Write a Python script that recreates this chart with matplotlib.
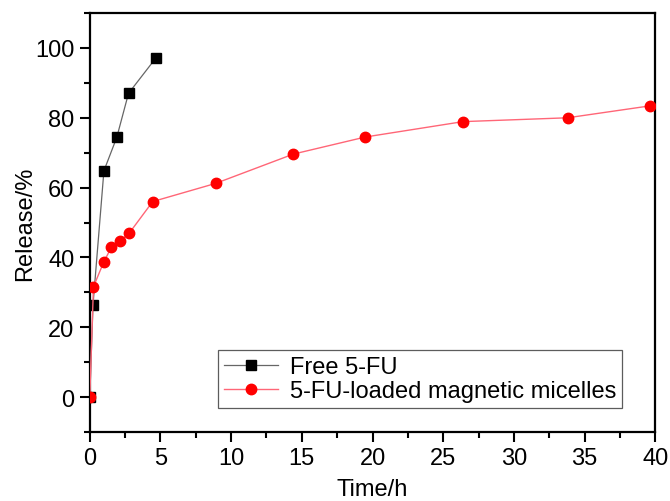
import matplotlib
matplotlib.use('Agg')
import matplotlib.pyplot as plt
from matplotlib.ticker import MultipleLocator

plt.rcParams.update({
    'font.family': ['Liberation Sans', 'DejaVu Sans'],
    'font.size': 17,
})

# ── data ─────────────────────────────────────────────────────────────────────
free_t = [0, 0.23, 1.0, 1.91, 2.74, 4.67]
free_rel = [0, 26.5, 64.8, 74.4, 87.0, 97.1]

mic_t = [0, 0.26, 1.0, 1.53, 2.12, 2.8, 4.45, 8.9, 14.4, 19.5, 26.4, 33.8, 39.6]
mic_rel = [0, 31.6, 38.8, 42.9, 44.6, 47.0, 56.0, 61.2, 69.6, 74.5, 78.9, 80.0, 83.4]

fig = plt.figure(figsize=(6.7, 5.02), dpi=100)
ax = fig.add_axes([0.134, 0.1375, 0.844, 0.8345])

ax.plot(free_t, free_rel, color='#666666', lw=0.9, marker='s', ms=6.5,
        mfc='black', mec='black', label='Free 5-FU', zorder=3)
ax.plot(mic_t, mic_rel, color='#ff6677', lw=1.0, marker='o', ms=7.5,
        mfc='#ff0000', mec='#ff0000', label='5-FU-loaded magnetic micelles',
        zorder=4)

ax.set_xlim(0, 40)
ax.set_ylim(-10, 110)
ax.xaxis.set_major_locator(MultipleLocator(5))
ax.xaxis.set_minor_locator(MultipleLocator(2.5))
ax.yaxis.set_major_locator(MultipleLocator(20))
ax.yaxis.set_minor_locator(MultipleLocator(10))
ax.set_yticks([0, 20, 40, 60, 80, 100])

ax.tick_params(which='major', direction='out', length=7, width=1.5,
               labelsize=17, pad=4)
ax.tick_params(which='minor', direction='out', length=4, width=1.5)
ax.tick_params(top=False, right=False, which='both')
for sp in ax.spines.values():
    sp.set_linewidth(1.6)

ax.set_xlabel('Time/h', fontsize=17, labelpad=6)
ax.set_ylabel('Release/%', fontsize=17)
ax.yaxis.set_label_coords(-0.095, 0.5)

leg = ax.legend(loc='lower right', bbox_to_anchor=(0.942, 0.057),
                fontsize=17, frameon=True, fancybox=False,
                edgecolor='#333333', handlelength=2.3, borderpad=0.25,
                labelspacing=0.1, handletextpad=0.5, borderaxespad=0)
leg.get_frame().set_linewidth(0.9)

fig.savefig('out.png', dpi=100)
